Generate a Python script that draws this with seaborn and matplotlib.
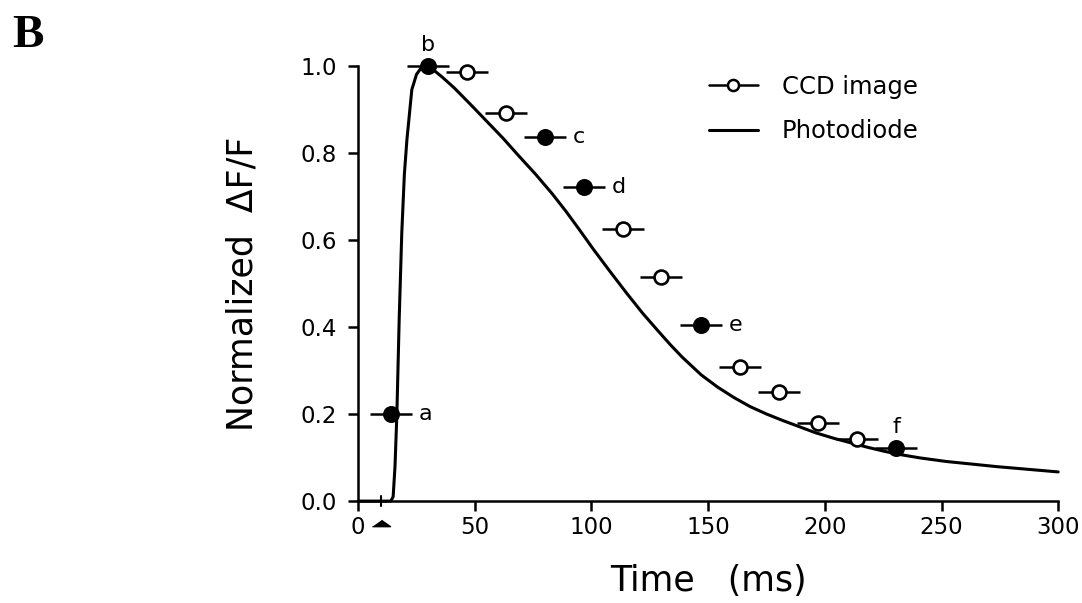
import numpy as np
import pandas as pd
import matplotlib
matplotlib.use("Agg")
import matplotlib.pyplot as plt
import seaborn as sns
from matplotlib.lines import Line2D

# =========================
# DATA
# =========================

# CCD image frames (ms, normalized dF/F)
ccd_time = [14.1, 30.0, 46.7, 63.4, 80.1, 96.9, 113.6, 129.9, 147.0, 163.7, 180.4, 197.2, 213.9, 230.6]
ccd_value = [0.20, 1.00, 0.986, 0.892, 0.837, 0.722, 0.625, 0.515, 0.405, 0.308, 0.251, 0.179, 0.143, 0.122]
ccd_filled = [True, True, False, False, True, True, False, False, True, False, False, False, False, True]
ccd_letters = ["a", "b", "", "", "c", "d", "", "", "e", "", "", "", "", "f"]
frame_halfwidth = 9.0

# Photodiode trace
pd_time = [0, 14, 15, 15.8, 16.6, 17.6, 18.7, 19.8, 20.9, 23, 25, 27, 29, 31, 36, 41, 48, 55,
           62, 69, 76, 83, 89, 95, 101, 108, 115, 122, 129, 134, 139, 147, 154, 161, 168,
           175, 182, 189, 196, 204, 211, 218, 225, 231, 241, 252, 263, 274, 287, 300]
pd_value = [0, 0, 0.01, 0.08, 0.2, 0.42, 0.616, 0.75, 0.83, 0.945, 0.98, 0.995, 1.0, 0.996,
            0.974, 0.950, 0.912, 0.873, 0.834, 0.792, 0.751, 0.707, 0.666, 0.622, 0.577,
            0.527, 0.478, 0.431, 0.388, 0.358, 0.330, 0.290, 0.262, 0.238, 0.217, 0.200,
            0.185, 0.171, 0.157, 0.144, 0.134, 0.124, 0.115, 0.108, 0.099, 0.091, 0.085,
            0.079, 0.073, 0.067]

stim_time = 10

ccd = pd.DataFrame({"time": ccd_time, "value": ccd_value, "filled": ccd_filled, "label": ccd_letters})
trace = pd.DataFrame({"time": pd_time, "value": pd_value})

# =========================
# PLOT
# =========================

sns.set_style("ticks")
plt.rcParams["font.family"] = ["DejaVu Sans"]
plt.rcParams["text.color"] = "black"
plt.rcParams["axes.labelcolor"] = "black"
plt.rcParams["xtick.color"] = "black"
plt.rcParams["ytick.color"] = "black"
plt.rcParams["axes.edgecolor"] = "black"

fig = plt.figure(figsize=(10.82, 6.03), dpi=100)
ax = fig.add_axes([0.331, 0.169, 0.647, 0.722])

sns.lineplot(data=trace, x="time", y="value", color="black", linewidth=2.2, ax=ax, clip_on=False)

ax.errorbar(ccd["time"], ccd["value"], xerr=frame_halfwidth, fmt="none",
            ecolor="black", elinewidth=1.8, capsize=0, clip_on=False, zorder=3)

sns.scatterplot(data=ccd[ccd["filled"]], x="time", y="value", s=115, color="black",
                edgecolor="black", linewidth=1.5, ax=ax, clip_on=False, zorder=4)
sns.scatterplot(data=ccd[~ccd["filled"]], x="time", y="value", s=100, color="white",
                edgecolor="black", linewidth=1.9, ax=ax, clip_on=False, zorder=4)

# letters next to the filled frames
for _, row in ccd.iterrows():
    if row["label"] == "":
        continue
    if row["label"] in ("b", "f"):
        off = (0, 15)
        ha = "center"
    else:
        off = (20, 0)
        ha = "left"
    ax.annotate(row["label"], (row["time"], row["value"]), xytext=off, textcoords="offset points",
                ha=ha, va="center", fontsize=16)

# stimulus marker
ax.plot([stim_time, stim_time], [-0.012, 0.012], color="black", lw=1.5, clip_on=False)
ax.plot([stim_time], [-0.05], marker=[(-1, -0.35), (1, -0.35), (0, 0.35)], markersize=13,
        color="black", clip_on=False, linestyle="none")

ax.set_xlim(0, 300)
ax.set_ylim(0, 1.0)
ax.set_xticks([0, 50, 100, 150, 200, 250, 300])
ax.set_yticks([0.0, 0.2, 0.4, 0.6, 0.8, 1.0])
ax.set_yticklabels(["0.0", "0.2", "0.4", "0.6", "0.8", "1.0"])
ax.tick_params(direction="out", length=7, width=1.8, labelsize=16.5)
ax.tick_params(axis="y", pad=8)
for side in ["left", "bottom"]:
    ax.spines[side].set_linewidth(1.8)
sns.despine(ax=ax)

ax.set_xlabel("Time   (ms)", fontsize=25, labelpad=18)
ax.set_ylabel("Normalized  ΔF/F", fontsize=25, labelpad=30)

handles = [
    Line2D([], [], color="black", lw=1.8, marker="o", markersize=8, markerfacecolor="white",
           markeredgewidth=1.8),
    Line2D([], [], color="black", lw=2.2),
]
ax.legend(handles, ["CCD image", "Photodiode"], loc="upper left", bbox_to_anchor=(0.47, 1.03),
          frameon=False, fontsize=17.5, handlelength=2.0, labelspacing=0.85, handletextpad=1.0)

fig.text(0.011, 0.922, "B", fontsize=34, fontweight="bold", family="Liberation Serif")

fig.savefig("out.png", dpi=100)
